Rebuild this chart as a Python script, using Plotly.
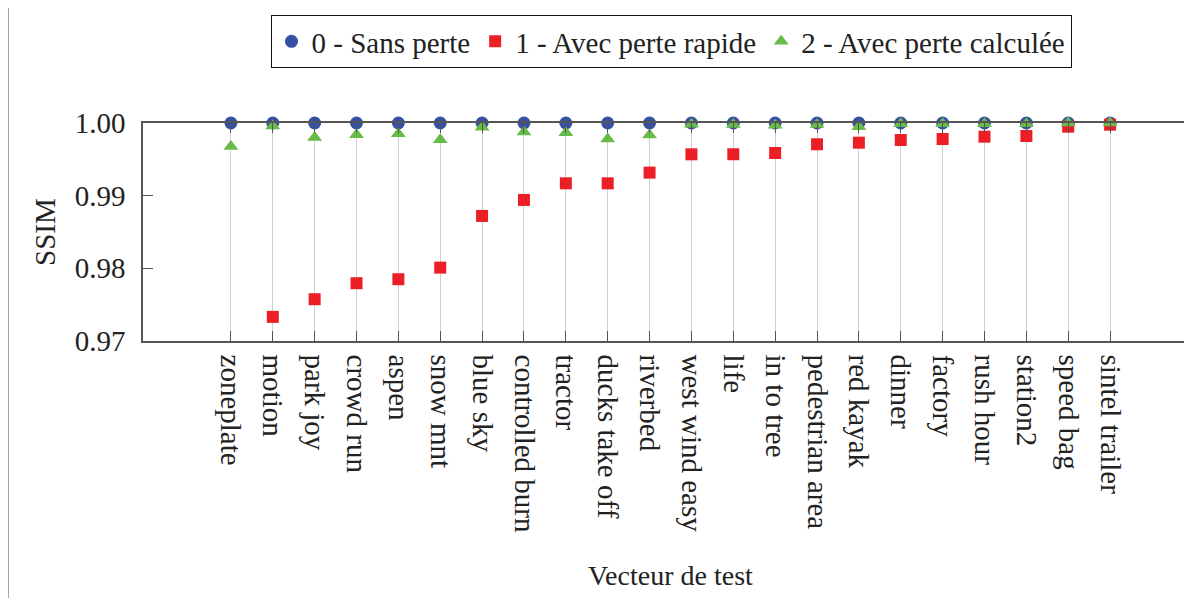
import plotly.graph_objects as go

categories = ["zoneplate", "motion", "park joy", "crowd run", "aspen", "snow mnt",
              "blue sky", "controlled burn", "tractor", "ducks take off", "riverbed",
              "west wind easy", "life", "in to tree", "pedestrian area", "red kayak",
              "dinner", "factory", "rush hour", "station2", "speed bag", "sintel trailer"]

sans_perte = [1.0] * 22
perte_rapide = [None, 0.97332, 0.97575, 0.97795, 0.9785, 0.9801, 0.98721, 0.98941,
                0.9917, 0.9917, 0.99317, 0.99569, 0.9957, 0.99587, 0.99707, 0.99729,
                0.99766, 0.9978, 0.99812, 0.99821, 0.9995, 0.99977]
perte_calculee = [0.99677, 0.99959, 0.9980, 0.9984, 0.99853, 0.99771, 0.9994, 0.99876,
                  0.99867, 0.9978, 0.99835, 0.99982, 0.9998, 0.9997, 0.9998, 0.9995,
                  0.9999, 0.9999, 0.9999, 0.9999, 1.0, 1.0]
series_names = ["0 - Sans perte", "1 - Avec perte rapide", "2 - Avec perte calculée"]
y_ticks = [0.97, 0.98, 0.99, 1.00]

FONT = "Liberation Serif"
TXT = "#222222"
xs = list(range(len(categories)))

fig = go.Figure()
fig.add_trace(go.Scatter(x=xs, y=sans_perte, mode="markers", name=series_names[0],
                         marker=dict(symbol="circle", size=13, color="#3650a6"), cliponaxis=False))
fig.add_trace(go.Scatter(x=xs, y=perte_rapide, mode="markers", name=series_names[1],
                         marker=dict(symbol="square", size=12, color="#ec1f26"), cliponaxis=False))
fig.add_trace(go.Scatter(x=xs, y=perte_calculee, mode="markers", name=series_names[2],
                         marker=dict(symbol="triangle-up", size=13, color="#67bb47"), cliponaxis=False))

# page has an 8px body margin: work in screen coords and subtract it
D = 8
W, H = 1192, 598
L, T, B, R = 143 - D, 123 - D, 341 - D, 1198 - D
pw, ph = R - L, B - T
X0, DX = 231 - D, 41.9

def px(xs_):
    return (xs_ - D - L) / pw

def py(ys_):
    return (B - (ys_ - D)) / ph

shapes = [
    dict(type="line", xref="paper", yref="paper", x0=px(8), x1=px(1210), y0=py(5), y1=py(5),
         line=dict(color="#888", width=1.5)),
    dict(type="line", xref="paper", yref="paper", x0=px(8), x1=px(8), y0=py(5), y1=py(620),
         line=dict(color="#888", width=1.5)),
]

fig.update_layout(
    width=W, height=H,
    margin=dict(l=L, r=W - R, t=T, b=H - B, autoexpand=False),
    paper_bgcolor="white", plot_bgcolor="white",
    font=dict(family=FONT, size=29, color=TXT),
    showlegend=True,
    legend=dict(orientation="h", x=px(671), y=py(15), xanchor="center", yanchor="top",
                bordercolor="#111", borderwidth=1, bgcolor="white",
                font=dict(family=FONT, size=29, color=TXT),
                itemwidth=30, tracegroupgap=0),
    shapes=shapes,
    annotations=[
        dict(text="SSIM", xref="paper", yref="paper", x=px(45), y=py(232), textangle=-90,
             showarrow=False, xanchor="center", yanchor="middle", font=dict(size=29, family=FONT, color=TXT)),
        dict(text="Vecteur de test", xref="paper", yref="paper", x=px(670), y=py(575),
             showarrow=False, xanchor="center", yanchor="middle", font=dict(size=28, family=FONT, color=TXT)),
    ],
)
fig.update_xaxes(
    range=[-(X0 - L) / DX, 21 + (R - (1110 - D)) / DX],
    tickmode="array", tickvals=xs, ticktext=categories, tickangle=90,
    ticks="inside", ticklen=10, tickcolor="#555", mirror="ticks",
    showline=True, linecolor="#555", linewidth=1.5,
    showgrid=True, gridcolor="#cfcfcf", gridwidth=1, zeroline=False,
    ticklabelstandoff=6,
    tickfont=dict(family=FONT, size=29, color=TXT),
)
fig.update_yaxes(
    range=[0.97, 1.0], tickmode="array", tickvals=y_ticks,
    ticktext=[f"{v:.2f}" for v in y_ticks],
    ticks="inside", ticklen=10, tickcolor="#555", mirror="ticks",
    showline=True, linecolor="#555", linewidth=1.5,
    showgrid=False, zeroline=False,
    ticklabelstandoff=10,
    tickfont=dict(family=FONT, size=29, color=TXT),
)
fig.write_html("out.html")
